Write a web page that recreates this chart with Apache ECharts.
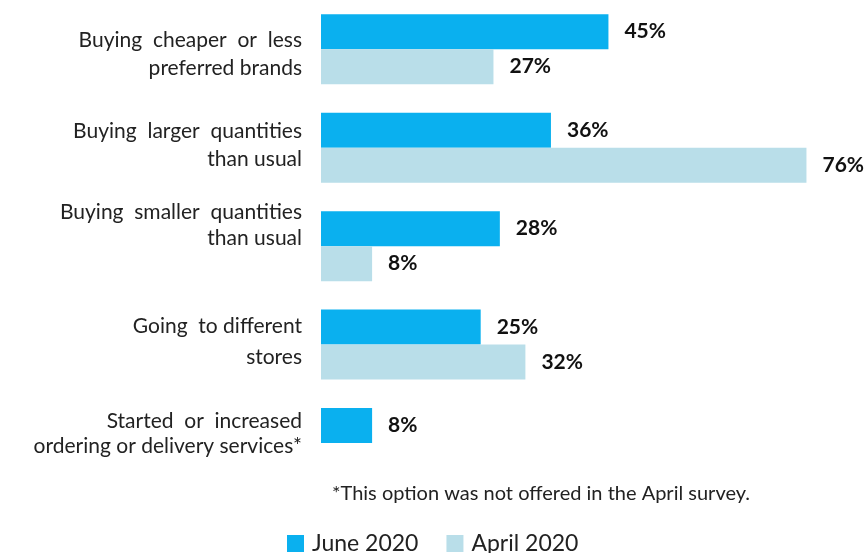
<!DOCTYPE html>
<html>
<head>
<meta charset="utf-8">
<script src="https://cdn.jsdelivr.net/npm/echarts@6/dist/echarts.min.js"></script>
<style>
  html, body { margin: 0; padding: 0; background: #fff; }
  #chart { width: 867px; height: 553px; }
</style>
</head>
<body>
<div id="chart"></div>
<script>
// Shopping behaviour changes, share of respondents
const categories = [
  'Buying  cheaper  or  less\npreferred brands',
  'Buying  larger  quantities\nthan usual',
  'Buying  smaller  quantities\nthan usual',
  'Going  to different\nstores',
  'Started  or  increased\nordering or delivery services*'
];
const june2020 = [45, 36, 28, 25, 8];
const april2020 = [27, 76, 8, 32, null];
const seriesNames = ['June 2020', 'April 2020'];
const footnote = '*This option was not offered in the April survey.';

// per-label line spacing and upward shift of the two-line block
const labelLineHeight = [28, 28, 26, 31, 25];
const labelLift = [-5, 2, 21, 3, 9];

const FONT = 'Lato, "Open Sans", sans-serif';
const LABEL_SIZE = 21;

// rich styles: one text style and one spacer per category
const rich = {};
categories.forEach((c, i) => {
  rich['t' + i] = { fontFamily: FONT, fontSize: LABEL_SIZE, lineHeight: labelLineHeight[i], color: '#222', align: 'right' };
  rich['s' + i] = { fontSize: 1, lineHeight: Math.max(1, Math.abs(labelLift[i]) * 2) };
});

function categoryLabel(value, index) {
  const lines = value.split('\n').map(l => '{t' + index + '|' + l + '}');
  const lift = labelLift[index];
  if (lift > 0) lines.push('{s' + index + '| }');
  else if (lift < 0) lines.unshift('{s' + index + '| }');
  return lines.join('\n');
}

const chart = echarts.init(document.getElementById('chart'), null, { renderer: 'canvas' });

const valueLabel = {
  show: true,
  position: 'right',
  distance: 16,
  formatter: '{c}%',
  color: '#111',
  fontFamily: FONT,
  fontWeight: 'bold',
  fontSize: 21
};

chart.setOption({
  animation: false,
  backgroundColor: '#fff',
  title: {
    text: footnote,
    left: 327,
    top: 479,
    textStyle: { fontFamily: FONT, fontSize: 20, fontWeight: 'normal', color: '#222' }
  },
  legend: {
    data: seriesNames,
    bottom: -7,
    left: 282,
    icon: 'rect',
    itemWidth: 17,
    itemHeight: 17,
    itemGap: 28,
    textStyle: { fontFamily: FONT, fontSize: 23, color: '#222', padding: [0, 0, 0, 3] }
  },
  grid: { left: 321, right: 35, top: -1.7, height: 494 },
  xAxis: {
    type: 'value',
    min: 0,
    max: 80,
    show: false
  },
  yAxis: {
    type: 'category',
    inverse: true,
    data: categories,
    axisLine: { show: false },
    axisTick: { show: false },
    axisLabel: {
      margin: 19,
      align: 'right',
      fontFamily: FONT,
      fontSize: LABEL_SIZE,
      lineHeight: 28,
      color: '#222',
      formatter: categoryLabel,
      rich: rich
    }
  },
  series: [
    {
      name: seriesNames[0],
      type: 'bar',
      data: june2020,
      barWidth: 35,
      barGap: '0%',
      itemStyle: { color: '#0AB0EF' },
      label: valueLabel
    },
    {
      name: seriesNames[1],
      type: 'bar',
      data: april2020,
      barWidth: 35,
      barGap: '0%',
      itemStyle: { color: '#B9DEE9' },
      label: valueLabel
    }
  ]
});
</script>
</body>
</html>
